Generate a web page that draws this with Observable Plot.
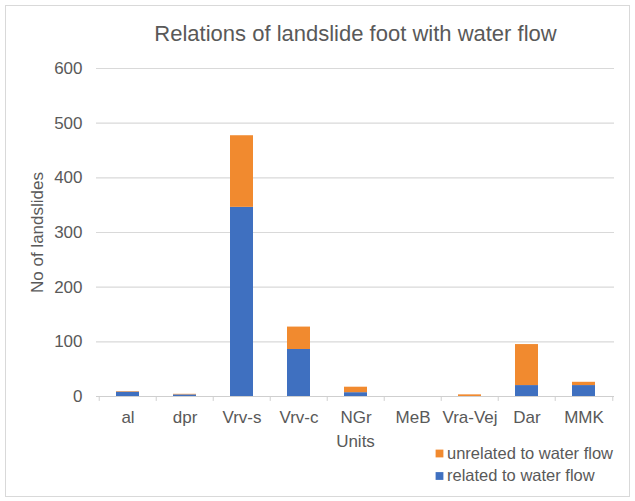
<!DOCTYPE html>
<html><head><meta charset="utf-8">
<script src="https://cdn.jsdelivr.net/npm/d3@7"></script>
<script src="https://cdn.jsdelivr.net/npm/@observablehq/plot@0.6"></script>
<style>
body{margin:0;background:#fff;}
#wrap{position:relative;width:635px;height:501px;}
#border{position:absolute;left:5px;top:5px;width:625px;height:492px;border:1px solid #d9d9d9;box-sizing:border-box;pointer-events:none;}
</style></head><body>
<div id="wrap"><div id="border"></div></div>
<script>
const units = ["al","dpr","Vrv-s","Vrv-c","NGr","MeB","Vra-Vej","Dar","MMK"];
const related = [8,3,346,86,7,0,0,20,20];
const unrelated = [1,1,131,41,10,0,3,75,6];
const seriesNames = ["related to water flow","unrelated to water flow"];
const seriesColors = ["#3f70c0","#f18a2f"];
const yTicks = [0,100,200,300,400,500,600];
const title = "Relations of landslide foot with water flow";
const xTitle = "Units";
const yTitle = "No of landslides";

const rows = [];
units.forEach((u,i)=>{
  rows.push({unit:u, series:seriesNames[0], value:related[i]});
  rows.push({unit:u, series:seriesNames[1], value:unrelated[i]});
});

const W=635,H=501,mL=96,mR=21,mT=68,mB=105;
const step=(W-mL-mR)/units.length;
const textColor="#595959";
const legendItems=[seriesNames[1],seriesNames[0]];
const legendMarks=[];
legendItems.forEach((name,i)=>{
  const dy=(453-396)+i*22.5;
  legendMarks.push(Plot.dot([name],{frameAnchor:"bottom-left",dx:439-mL,dy,symbol:"square",r:4.4,fill:seriesColors[seriesNames.indexOf(name)]}));
  legendMarks.push(Plot.text([name],{frameAnchor:"bottom-left",dx:446.5-mL,dy,textAnchor:"start",lineAnchor:"middle",fontSize:16.5,fill:textColor}));
});

const chart = Plot.plot({
  width:W,height:H,marginLeft:mL,marginRight:mR,marginTop:mT,marginBottom:mB,
  style:{fontFamily:"'Liberation Sans', Arial, sans-serif",fontSize:"17px",color:textColor,background:"transparent"},
  x:{domain:units,paddingInner:0.6,paddingOuter:0.3,tickSize:0,tickPadding:14,label:null},
  y:{domain:[0,600],ticks:yTicks,tickSize:0,tickPadding:14,label:null},
  color:{domain:seriesNames,range:seriesColors},
  marks:[
    Plot.ruleY(yTicks.filter(t=>t>0),{stroke:"#d9d9d9",strokeWidth:1.2,strokeOpacity:1}),
    Plot.barY(rows,{x:"unit",y:"value",fill:"series"}),
    Plot.ruleY([0],{stroke:"#cfcfcf",strokeWidth:1.2,strokeOpacity:1}),
    Plot.ruleX(units,{x:d=>d,dx:-step/2,y1:0,y2:-9,stroke:"#cfcfcf",strokeOpacity:1}),
    Plot.ruleX([units[units.length-1]],{x:d=>d,dx:step/2,y1:0,y2:-9,stroke:"#cfcfcf",strokeOpacity:1}),
    Plot.text([title],{frameAnchor:"top",dy:-35,textAnchor:"middle",lineAnchor:"middle",fontSize:22,fill:textColor}),
    Plot.text([xTitle],{frameAnchor:"bottom",dy:45,textAnchor:"middle",lineAnchor:"middle",fontSize:17,fill:textColor}),
    Plot.text([yTitle],{frameAnchor:"left",dx:-59,rotate:-90,textAnchor:"middle",lineAnchor:"middle",fontSize:17,fill:textColor}),
    ...legendMarks
  ]
});
document.getElementById("wrap").prepend(chart);
</script>
</body></html>
